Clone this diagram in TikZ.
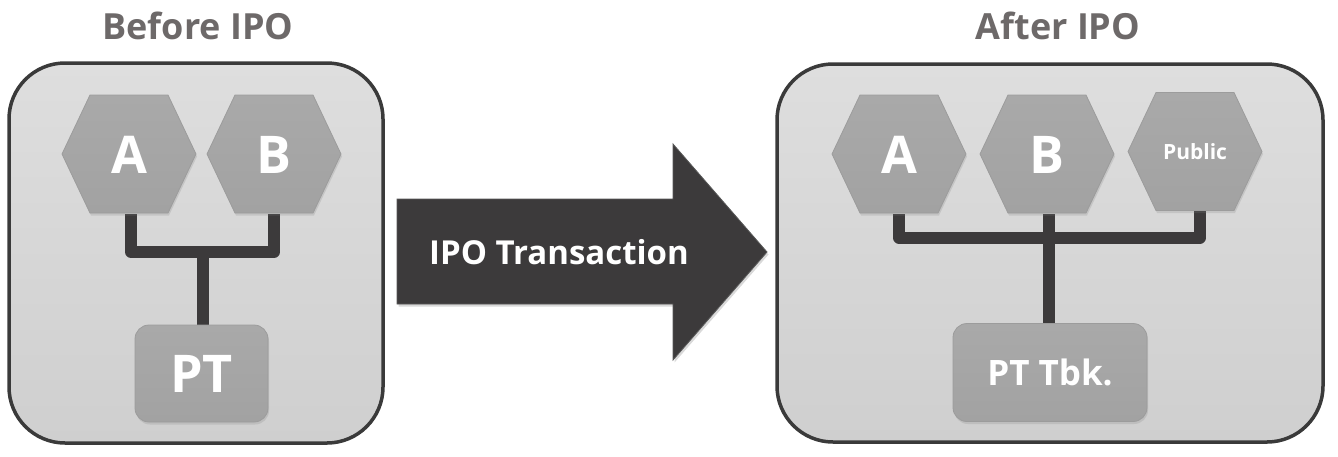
\documentclass[tikz,border=0pt]{standalone}
\usepackage{fontspec}
\setmainfont{Open Sans}
\usetikzlibrary{shadows}
\definecolor{boxline}{HTML}{3A3A3A}
\definecolor{boxtop}{HTML}{DEDEDE}
\definecolor{boxbot}{HTML}{CFCFCF}
\definecolor{hexfill}{HTML}{A9A9A9}
\definecolor{hexfillb}{HTML}{A2A2A2}
\definecolor{hexedge}{HTML}{9C9C9C}
\definecolor{conncol}{HTML}{3C3A3B}
\definecolor{titlecol}{HTML}{6D6969}
\pgfdeclarelayer{back}
\pgfdeclarelayer{mid}
\pgfsetlayers{back,mid,main}
\newcommand\hexat[2]{\path[hexshape] (#1,#2) +(-67,0) -- +(-39,-59) -- +(39,-59) -- +(67,0) -- +(39,59) -- +(-39,59) -- cycle;}
\tikzset{
  outerbox/.style={draw=boxline, line width=3.5pt, rounded corners=56pt, top color=boxtop, bottom color=boxbot},
  hexshape/.style={draw=hexedge, line width=0.8pt, top color=hexfill, bottom color=hexfillb,
    drop shadow={opacity=0.22, shadow xshift=1pt, shadow yshift=-2.5pt}},
  hexlabel/.style={inner sep=0pt, minimum width=78pt, minimum height=118pt, text=white, font=\bfseries\fontsize{52}{52}\selectfont},
  ptbox/.style={draw=hexedge, line width=0.8pt, rounded corners=14pt, top color=hexfill, bottom color=hexfillb,
    text=white, inner sep=0pt, drop shadow={opacity=0.22, shadow xshift=1pt, shadow yshift=-2.5pt}},
  conn/.style={draw=conncol, line width=12pt, line join=round},
  title/.style={text=titlecol, font=\bfseries\fontsize{36}{36}\selectfont, inner sep=0pt},
  bigarrow/.style={fill=conncol, draw=gray!70!black, line width=0.8pt,
    drop shadow={opacity=0.3, shadow xshift=1.5pt, shadow yshift=-2.5pt}},
}
\begin{document}
\begin{tikzpicture}[x=1pt,y=-1pt]
\useasboundingbox (0,0) rectangle (1338,456);
% outer boxes
\begin{pgfonlayer}{back}
\path[outerbox] (9,63) rectangle (383,443);
\path[outerbox] (777,64) rectangle (1323,442);
\end{pgfonlayer}
% titles
\node[title] (t1) at (198,26) {Before IPO};
\node[title] (t2) at (1058,26) {After IPO};
% left content
\hexat{129}{154}
\node[hexlabel] (LA) at (129,155) {A};
\hexat{274}{154}
\node[hexlabel] (LB) at (274,155) {B};
\node[ptbox, minimum width=133pt, minimum height=97pt, font=\bfseries\fontsize{52}{52}\selectfont] (LPT) at (201.5,373.5) {PT};
\coordinate (lbar) at (203,252);
\begin{pgfonlayer}{mid}
\draw[conn] ([xshift=2pt]LA.south) |- (lbar) -| (LB.south);
\draw[conn] (lbar) -- (lbar |- LPT.north);
\end{pgfonlayer}
% arrow
\fill[bigarrow] (397,199) -- (673,199) -- (673,144) -- (767,252) -- (673,360) -- (673,304) -- (397,304) -- cycle;
\node[text=white, font=\bfseries\fontsize{33}{33}\selectfont, inner sep=0pt] (ipo) at (559,252) {IPO Transaction};
% right content
\hexat{899}{154}
\node[hexlabel] (RA) at (899,155) {A};
\hexat{1047}{154}
\node[hexlabel] (RB) at (1047,155) {B};
\hexat{1195}{151.5}
\node[hexlabel, font=\bfseries\fontsize{21}{21}\selectfont] (RP) at (1195,151.5) {Public};
\node[ptbox, minimum width=194pt, minimum height=98pt, font=\bfseries\fontsize{35}{35}\selectfont] (RPT) at (1050,372.5) {PT Tbk.};
\coordinate (rbar) at (1049,237.5);
\begin{pgfonlayer}{mid}
\draw[conn] (RA.south) |- (rbar) -| ([xshift=5pt]RP.south);
\draw[conn] (RB.south -| rbar) -- (rbar |- RPT.north);
\end{pgfonlayer}
\end{tikzpicture}
\end{document}
